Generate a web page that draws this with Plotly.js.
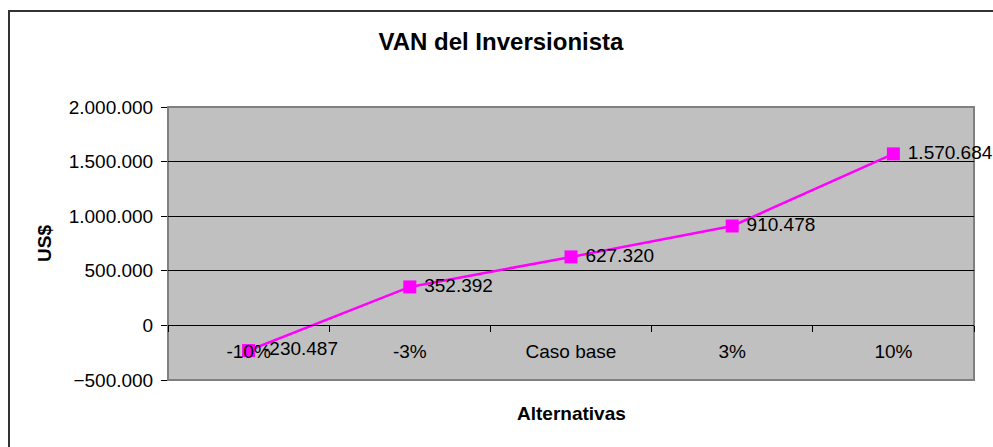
<!DOCTYPE html>
<html>
<head>
<meta charset="utf-8">
<script src="https://cdn.plot.ly/plotly-3.0.1.min.js"></script>
<style>
  html, body { margin: 0; padding: 0; background: #ffffff; overflow: hidden; }
  #frame { position: absolute; left: 8px; top: 10px; width: 1100px; height: 600px;
           border-left: 2px solid #333; border-top: 2px solid #333; }
  #chart { position: absolute; left: 0; top: 0; width: 993px; height: 447px; }
</style>
</head>
<body>
<div id="frame"></div>
<div id="chart"></div>
<script>
const categories = ['-10%', '-3%', 'Caso base', '3%', '10%'];
const vanValues = [-230487, 352392, 627320, 910478, 1570684];
const yTickValues = [-500000, 0, 500000, 1000000, 1500000, 2000000];

const FONT = 'Arial, "Liberation Sans", sans-serif';

const trace = {
  type: 'scatter',
  mode: 'lines+markers+text',
  x: categories,
  y: vanValues,
  line: { color: '#FF00FF', width: 2.5 },
  marker: { symbol: 'square', size: 13, color: '#FF00FF' },
  texttemplate: '\u00a0%{y:,.0f}',
  textposition: 'middle right',
  textfont: { family: FONT, size: 19, color: '#000000' },
  cliponaxis: false,
  hoverinfo: 'skip'
};

const layout = {
  width: 993,
  height: 447,
  margin: { l: 168, r: 19, t: 107, b: 67 },
  paper_bgcolor: 'rgba(0,0,0,0)',
  plot_bgcolor: '#C0C0C0',
  separators: ',.',
  showlegend: false,
  font: { family: FONT, size: 19, color: '#000000' },
  title: {
    text: '<b>VAN del Inversionista</b>',
    font: { family: FONT, size: 24, color: '#000000' },
    x: 0.5045, xref: 'container', xanchor: 'center',
    y: 1 - 42 / 447, yref: 'container', yanchor: 'middle'
  },
  xaxis: {
    type: 'category',
    range: [-0.5, 4.5],
    anchor: 'free',
    position: 0.2,
    showline: true,
    linecolor: '#000000',
    linewidth: 1,
    ticks: 'outside',
    tickson: 'boundaries',
    ticklen: 6,
    tickcolor: '#000000',
    tickwidth: 1,
    ticklabelstandoff: 9,
    showgrid: false,
    zeroline: false,
    tickfont: { family: FONT, size: 19, color: '#000000' },
    fixedrange: true
  },
  yaxis: {
    range: [-500000, 2000000],
    tickvals: yTickValues,
    tickformat: ',',
    showgrid: true,
    gridcolor: '#000000',
    gridwidth: 1,
    zeroline: true,
    zerolinecolor: '#000000',
    zerolinewidth: 1,
    showline: false,
    ticks: 'outside',
    ticklen: 6,
    tickcolor: '#000000',
    tickwidth: 1,
    ticklabelstandoff: 4,
    tickfont: { family: FONT, size: 19, color: '#000000' },
    fixedrange: true
  },
  shapes: [
    {
      type: 'rect', xref: 'paper', yref: 'paper',
      x0: 0, x1: 1, y0: 0, y1: 1,
      line: { color: '#808080', width: 2 },
      fillcolor: 'rgba(0,0,0,0)',
      layer: 'below'
    }
  ],
  annotations: [
    {
      text: '<b>US$</b>', textangle: -90,
      xref: 'paper', yref: 'paper',
      x: (44.5 - 168) / 806, y: 0.5,
      xanchor: 'center', yanchor: 'middle',
      showarrow: false,
      font: { family: FONT, size: 19, color: '#000000' }
    },
    {
      text: '<b>Alternativas</b>',
      xref: 'paper', yref: 'paper',
      x: 0.5, y: (380 - 413) / 273,
      xanchor: 'center', yanchor: 'middle',
      showarrow: false,
      font: { family: FONT, size: 19, color: '#000000' }
    }
  ]
};

Plotly.newPlot('chart', [trace], layout, { displayModeBar: false, staticPlot: true });
</script>
</body>
</html>
